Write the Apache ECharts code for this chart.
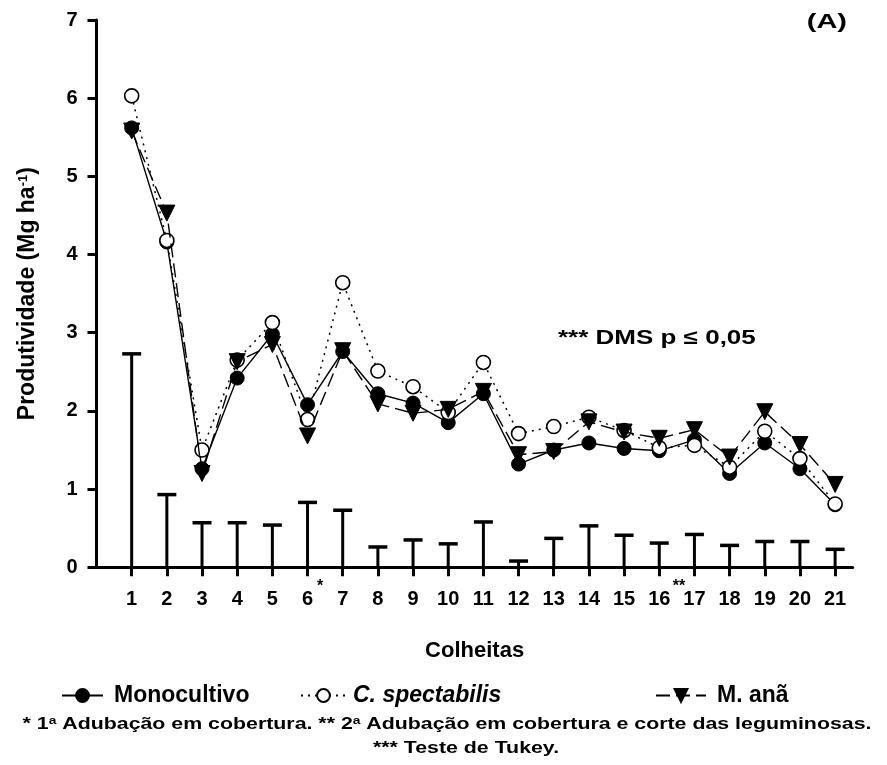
<!DOCTYPE html>
<html>
<head>
<meta charset="utf-8">
<script src="https://cdn.jsdelivr.net/npm/echarts@6/dist/echarts.min.js"></script>
<style>
html,body{margin:0;padding:0;background:#fff;}
#chart{width:887px;height:765px;}
</style>
</head>
<body>
<div id="chart"></div>
<script>
const categories = [1,2,3,4,5,6,7,8,9,10,11,12,13,14,15,16,17,18,19,20,21];
const monocultivo = [5.62,4.16,1.26,2.42,2.98,2.08,2.76,2.22,2.10,1.85,2.22,1.32,1.50,1.59,1.52,1.49,1.63,1.20,1.59,1.26,0.80];
const cSpectabilis = [6.03,4.18,1.50,2.65,3.13,1.89,3.64,2.51,2.31,1.98,2.62,1.71,1.80,1.92,1.75,1.53,1.56,1.28,1.74,1.39,0.81];
const mAna = [5.58,4.53,1.20,2.63,2.85,1.68,2.77,2.09,1.97,2.02,2.25,1.44,1.48,1.86,1.73,1.65,1.76,1.41,1.99,1.57,1.06];
const dms = [2.73,0.93,0.57,0.57,0.54,0.83,0.73,0.26,0.35,0.30,0.58,0.08,0.37,0.53,0.41,0.31,0.42,0.28,0.33,0.33,0.23];

const FONT = "'Liberation Sans', Arial, sans-serif";
const pair = arr => categories.map((c, i) => [c, arr[i]]);

const chart = echarts.init(document.getElementById('chart'));

const legendBase = {
  orient: 'horizontal',
  top: 679,
  itemHeight: 16,
  textStyle: {
    fontFamily: FONT, fontWeight: 'bold', fontSize: 23, color: '#000',
    padding: [0, 0, 0, 6],
    rich: {
      i: {fontFamily: FONT, fontWeight: 'bold', fontStyle: 'italic', fontSize: 23, color: '#000'}
    }
  },
  formatter: name => name === 'C. spectabilis' ? '{i|C. spectabilis}' : name
};

chart.setOption({
  animation: false,
  backgroundColor: '#fff',
  grid: {left: 96.5, right: 34.3, top: 20, bottom: 197.7, containLabel: false},
  legend: [
    Object.assign({}, legendBase, {left: 56, itemWidth: 41, data: ['Monocultivo']}),
    Object.assign({}, legendBase, {left: 295, itemWidth: 45, data: ['C. spectabilis'], textStyle: Object.assign({}, legendBase.textStyle, {padding: [0, 0, 0, 2]})}),
    Object.assign({}, legendBase, {left: 650, itemWidth: 50, data: ['M. anã']})
  ],
  xAxis: {
    type: 'value',
    min: 0, max: 21.5, interval: 1,
    name: 'Colheitas',
    nameLocation: 'middle',
    nameGap: 73,
    nameTextStyle: {fontFamily: FONT, fontWeight: 'bold', fontSize: 22, color: '#000'},
    axisLine: {show: true, onZero: false, lineStyle: {color: '#000', width: 3}},
    axisTick: {show: true, inside: false, length: 9, lineStyle: {color: '#000', width: 3}, customValues: categories},
    axisLabel: {
      customValues: categories,
      margin: 22,
      fontFamily: FONT, fontWeight: 'bold', fontSize: 20, color: '#000'
    },
    splitLine: {show: false}
  },
  yAxis: {
    type: 'value',
    min: 0, max: 7, interval: 1,
    name: 'Produtividade (Mg ha{sup|-1})',
    nameLocation: 'middle',
    nameRotate: 90,
    nameGap: 57,
    nameTextStyle: {
      fontFamily: FONT, fontWeight: 'bold', fontSize: 23, color: '#000',
      rich: {
        sup: {fontFamily: FONT, fontWeight: 'bold', fontSize: 13, color: '#000', verticalAlign: 'top', lineHeight: 13}
      }
    },
    axisLine: {show: true, lineStyle: {color: '#000', width: 3}},
    axisTick: {show: true, inside: false, length: 9, lineStyle: {color: '#000', width: 3}},
    axisLabel: {
      margin: 19,
      fontFamily: FONT, fontWeight: 'bold', fontSize: 20, color: '#000'
    },
    splitLine: {show: false}
  },
  series: [
    {
      name: 'DMS',
      type: 'custom',
      z: 1,
      data: pair(dms),
      renderItem: (params, api) => {
        const x = api.value(0), v = api.value(1);
        const p0 = api.coord([x, 0]);
        const p1 = api.coord([x, v]);
        return {
          type: 'group',
          children: [
            {type: 'line', shape: {x1: p0[0], y1: p0[1], x2: p1[0], y2: p1[1]}, style: {stroke: '#000', lineWidth: 3}},
            {type: 'line', shape: {x1: p1[0] - 9.5, y1: p1[1], x2: p1[0] + 9.5, y2: p1[1]}, style: {stroke: '#000', lineWidth: 3.5}}
          ]
        };
      }
    },
    {
      name: 'Monocultivo',
      type: 'line',
      z: 3,
      data: pair(monocultivo),
      symbol: 'circle',
      symbolSize: 14,
      showAllSymbol: true,
      lineStyle: {color: '#000', width: 1.4, type: 'solid'},
      itemStyle: {color: '#000', borderColor: '#000', borderWidth: 1}
    },
    {
      name: 'C. spectabilis',
      type: 'line',
      z: 4,
      data: pair(cSpectabilis),
      symbol: 'circle',
      symbolSize: 14,
      showAllSymbol: true,
      lineStyle: {color: '#000', width: 1.5, type: [2, 5]},
      itemStyle: {color: '#fff', borderColor: '#000', borderWidth: 1.6}
    },
    {
      name: 'M. anã',
      type: 'line',
      z: 5,
      data: pair(mAna),
      symbol: 'triangle',
      symbolRotate: 180,
      symbolSize: 16,
      showAllSymbol: true,
      lineStyle: {color: '#000', width: 1.4, type: [14, 6]},
      itemStyle: {color: '#000', borderColor: '#000', borderWidth: 1}
    }
  ],
  graphic: [
    {type: 'text', x: 847, y: 22, scaleX: 1.38, style: {text: '(A)', font: 'bold 21px ' + FONT, fill: '#000', align: 'right', verticalAlign: 'middle'}},
    {type: 'text', x: 558, y: 338, scaleX: 1.3, style: {text: '*** DMS p ≤ 0,05', font: 'bold 20px ' + FONT, fill: '#000', align: 'left', verticalAlign: 'middle'}},
    {type: 'text', x: 320, y: 587, style: {text: '*', font: 'bold 16px ' + FONT, fill: '#000', align: 'center', verticalAlign: 'middle'}},
    {type: 'text', x: 679, y: 587, style: {text: '**', font: 'bold 16px ' + FONT, fill: '#000', align: 'center', verticalAlign: 'middle'}},
    {type: 'text', x: 447, y: 724, scaleX: 1.255, style: {
      text: '* 1{s|a} Adubação em cobertura. ** 2{s|a} Adubação em cobertura e corte das leguminosas.',
      font: 'bold 17px ' + FONT, fill: '#000', align: 'center', verticalAlign: 'middle',
      rich: {s: {font: 'bold 11px ' + FONT, fill: '#000', verticalAlign: 'top', lineHeight: 11}}
    }},
    {type: 'text', x: 466, y: 748, scaleX: 1.255, style: {text: '*** Teste de Tukey.', font: 'bold 17px ' + FONT, fill: '#000', align: 'center', verticalAlign: 'middle'}}
  ]
});
</script>
</body>
</html>
